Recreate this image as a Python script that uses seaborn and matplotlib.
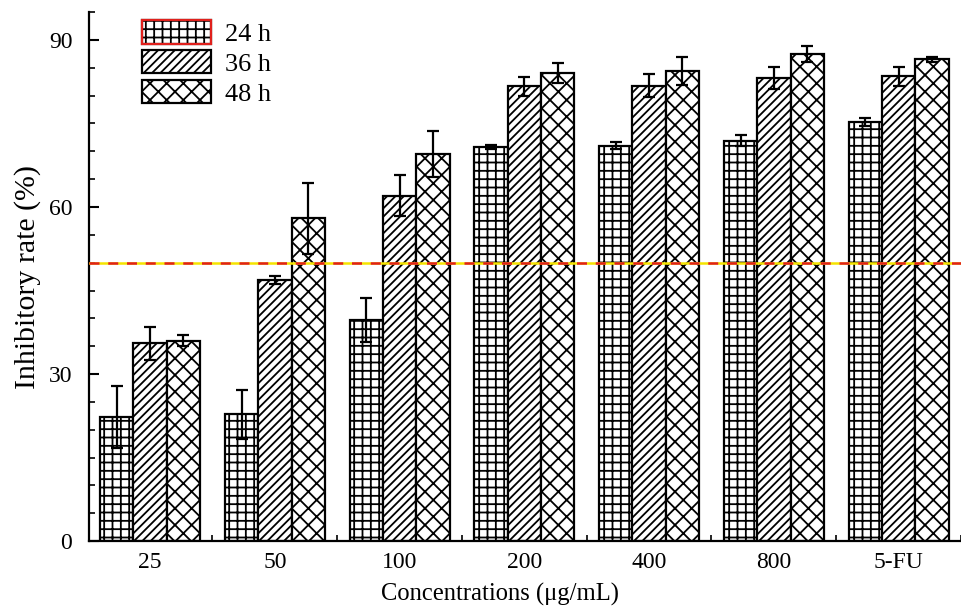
import numpy as np
import pandas as pd
import matplotlib
matplotlib.use('Agg')
import matplotlib.pyplot as plt
import seaborn as sns
from matplotlib.patches import Patch
from matplotlib.ticker import MultipleLocator

# Data
concs = ['25', '50', '100', '200', '400', '800', '5-FU']
times = ['24 h', '36 h', '48 h']
rate_24 = [22.3, 22.8, 39.7, 70.8, 71.0, 71.9, 75.2]
rate_36 = [35.5, 46.9, 62.0, 81.7, 81.8, 83.2, 83.5]
rate_48 = [36.0, 58.0, 69.5, 84.1, 84.4, 87.5, 86.5]
err_24 = [5.5, 4.4, 4.0, 0.4, 0.6, 1.0, 0.7]
err_36 = [3.0, 0.8, 3.7, 1.7, 2.1, 2.0, 1.7]
err_48 = [1.0, 6.4, 4.1, 1.8, 2.5, 1.4, 0.5]
threshold = 50

hatches = ['++', '////', 'xx']

df = pd.DataFrame({
    'conc': concs * 3,
    'time': np.repeat(times, len(concs)),
    'rate': rate_24 + rate_36 + rate_48,
})
errs = [err_24, err_36, err_48]

sns.set_style('ticks')
plt.rcParams['font.family'] = ['Liberation Serif', 'DejaVu Serif']
plt.rcParams['hatch.linewidth'] = 1.3
for k in ['text.color', 'axes.labelcolor', 'xtick.color', 'ytick.color', 'axes.edgecolor']:
    plt.rcParams[k] = 'black'

fig = plt.figure(figsize=(9.61, 6.06), dpi=100)
ax = fig.add_axes([0.0926, 0.107, 0.9074, 0.873])

sns.barplot(data=df, x='conc', y='rate', hue='time', order=concs, hue_order=times,
            errorbar=None, width=0.8, fill=False, legend=False, ax=ax)

for cont, h, err in zip(ax.containers, hatches, errs):
    xs = []
    ys = []
    for p in cont.patches:
        p.set_hatch(h)
        p.set_edgecolor('black')
        p.set_facecolor('white')
        p.set_fill(True)
        p.set_linewidth(1.6)
        xs.append(p.get_x() + p.get_width() / 2)
        ys.append(p.get_height())
    ax.errorbar(xs, ys, yerr=err, fmt='none', ecolor='black', elinewidth=1.6,
                capsize=4, capthick=1.6, zorder=5)

# 50 % reference line
ax.axhline(threshold, color='#f5e400', lw=1.8, zorder=6)
ax.axhline(threshold, color='#e0201c', lw=1.8, ls=(0, (4, 3.5)), zorder=7)

ax.set_xlim(-0.49, 6.5)
ax.set_ylim(0, 95)
ax.set_yticks([0, 30, 60, 90])
ax.yaxis.set_minor_locator(MultipleLocator(5))
ax.xaxis.set_minor_locator(MultipleLocator(0.5))
ax.tick_params(which='major', direction='in', length=7, width=1.5, labelsize=17)
ax.tick_params(which='minor', direction='in', length=4, width=1.2)
ax.tick_params(axis='x', pad=8)
ax.tick_params(axis='y', pad=12)
ax.set_xlabel('Concentrations (μg/mL)', fontsize=17.7)
ax.set_ylabel('Inhibitory rate (%)', fontsize=21.5)
ax.xaxis.set_label_coords(0.471, -0.078)
ax.yaxis.set_label_coords(-0.055, 0.5)

for s in ['top', 'right']:
    ax.spines[s].set_visible(False)
for s in ['left', 'bottom']:
    ax.spines[s].set_linewidth(1.6)

handles = [Patch(facecolor='white', edgecolor='black', hatch=h, lw=1.6) for h in hatches]
handles[0] = (handles[0], Patch(facecolor='none', edgecolor='#e0201c', lw=1.6))
ax.legend(handles, times, loc='upper left', bbox_to_anchor=(0.061, 0.985),
          frameon=False, fontsize=19, handlelength=2.6, handleheight=1.0,
          labelspacing=0.15, handletextpad=0.55, borderpad=0, borderaxespad=0)

fig.savefig('out.png', dpi=100)
